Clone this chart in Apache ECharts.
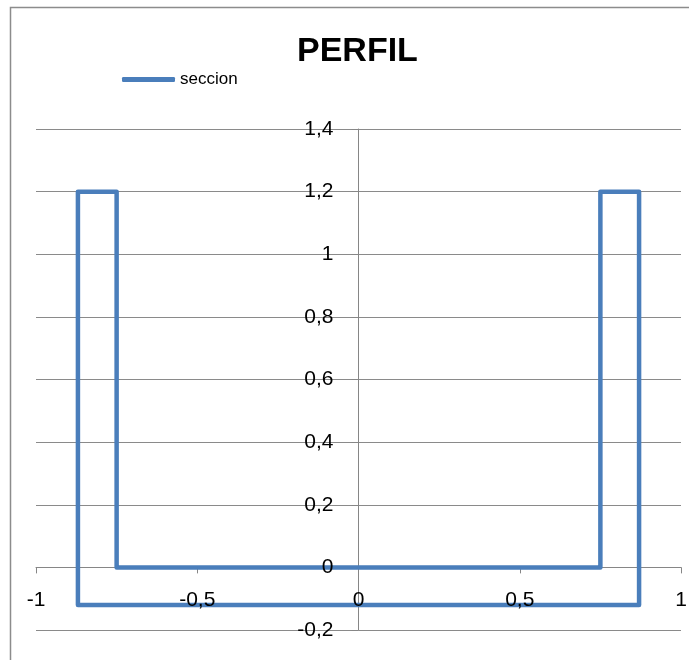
<!DOCTYPE html>
<html>
<head>
<meta charset="utf-8">
<script src="https://cdn.jsdelivr.net/npm/echarts@6/dist/echarts.min.js"></script>
<style>
html,body{margin:0;padding:0;background:#fff;overflow:hidden;}
#chart{width:689px;height:660px;}
</style>
</head>
<body>
<div id="chart"></div>
<script>
// Data
const seriesName = 'seccion';
const xValues = [-0.87, -0.75, -0.75, 0.75, 0.75, 0.87, 0.87, -0.87, -0.87];
const yValues = [1.2, 1.2, 0, 0, 1.2, 1.2, -0.12, -0.12, 1.2];
const xTicks = [-1, -0.5, 0, 0.5, 1];
const yTicks = [-0.2, 0, 0.2, 0.4, 0.6, 0.8, 1, 1.2, 1.4];

const points = xValues.map((x, i) => [x, yValues[i]]);
const fmt = v => String(+(+v).toFixed(2)).replace('.', ',');
const FONT = "'Liberation Sans', Arial, sans-serif";
const LABEL = {fontFamily: FONT, fontSize: 21, color: '#000000', textBorderWidth: 0, textShadowBlur: 0, opacity: 1};

const chart = echarts.init(document.getElementById('chart'), null, {renderer: 'canvas'});
chart.setOption({
  animation: false,
  backgroundColor: '#ffffff',
  graphic: [{
    type: 'polyline',
    shape: {points: [[10.5, 720], [10.5, 7.5], [720, 7.5]]},
    style: {fill: null, stroke: '#8c8c8c', lineWidth: 1.5},
    silent: true
  }],
  title: {
    text: 'PERFIL',
    left: 297,
    top: 35,
    padding: 0,
    textStyle: {fontFamily: FONT, fontWeight: 'bold', fontSize: 34, color: '#000'}
  },
  legend: {
    left: 122,
    top: 71,
    padding: 0,
    itemWidth: 53,
    itemHeight: 5,
    data: [{name: seriesName, icon: 'roundRect'}],
    textStyle: {fontFamily: FONT, fontSize: 17, color: '#000'}
  },
  grid: {left: 36, right: 8, top: 129, bottom: 30, containLabel: false, outerBoundsMode: 'none'},
  xAxis: {
    type: 'value',
    min: xTicks[0],
    max: xTicks[xTicks.length - 1],
    interval: 0.5,
    axisLine: {show: true, onZero: true, lineStyle: {color: '#868686', width: 1}},
    axisTick: {show: true, inside: false, length: 6, lineStyle: {color: '#868686'}},
    splitLine: {show: false},
    axisLabel: {show: false}
  },
  yAxis: {
    type: 'value',
    min: yTicks[0],
    max: yTicks[yTicks.length - 1],
    interval: 0.2,
    axisLine: {show: true, onZero: true, lineStyle: {color: '#868686', width: 1}},
    axisTick: {show: true, inside: false, length: 7, lineStyle: {color: '#868686'}},
    splitLine: {show: true, lineStyle: {color: '#8a8a8a', width: 1}},
    axisLabel: {show: false}
  },
  series: [{
    name: seriesName,
    type: 'line',
    data: points,
    symbol: 'none',
    showSymbol: false,
    color: '#4a7ebb',
    lineStyle: {color: '#4a7ebb', width: 4.5, join: 'round', cap: 'round'},
    z: 3
  }, {
    name: 'xTickLabels',
    type: 'scatter',
    data: xTicks.map(t => [t, 0]),
    symbol: 'circle',
    symbolSize: 0,
    silent: true,
    z: 4,
    itemStyle: {opacity: 1},
    label: Object.assign({
      show: true, position: 'inside', offset: [0, 33],
      align: 'center', verticalAlign: 'middle',
      formatter: p => fmt(p.value[0])
    }, LABEL)
  }, {
    name: 'yTickLabels',
    type: 'scatter',
    data: yTicks.map(t => [0, t]),
    symbol: 'circle',
    symbolSize: 0,
    silent: true,
    z: 4,
    itemStyle: {opacity: 1},
    label: Object.assign({
      show: true, position: 'inside', offset: [-25, 0],
      align: 'right', verticalAlign: 'middle',
      formatter: p => fmt(p.value[1])
    }, LABEL)
  }]
});
</script>
</body>
</html>
